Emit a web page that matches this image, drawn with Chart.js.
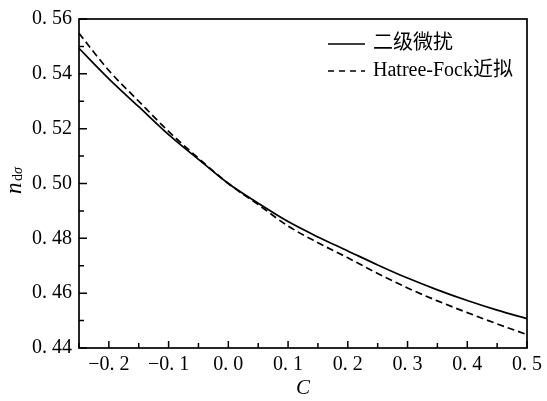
<!DOCTYPE html>
<html>
<head>
<meta charset="utf-8">
<script src="https://cdn.jsdelivr.net/npm/chart.js@4"></script>
<style>
  html, body { margin: 0; padding: 0; background: #fff; }
  #wrap { width: 547px; height: 401px; }
</style>
</head>
<body>
<div id="wrap"><canvas id="chart" width="547" height="401"></canvas></div>
<script>
// Data
const cValues = [-0.25, -0.2, -0.15, -0.1, -0.05, 0, 0.05, 0.1, 0.15, 0.2, 0.25, 0.3, 0.35, 0.4, 0.45, 0.5];
const secondOrder = [0.5493, 0.5382, 0.5280, 0.5178, 0.5088, 0.5000, 0.4928, 0.4861, 0.4805, 0.4754, 0.4703, 0.4655, 0.4612, 0.4573, 0.4538, 0.4507];
const hartreeFock = [0.5548, 0.5412, 0.5300, 0.5190, 0.5092, 0.5000, 0.4923, 0.4845, 0.4784, 0.4729, 0.4672, 0.4619, 0.4572, 0.4529, 0.4488, 0.4449];
const seriesNames = ['二级微扰', 'Hatree-Fock近拟'];

const xTicks = [-0.2, -0.1, 0.0, 0.1, 0.2, 0.3, 0.4, 0.5];
const xMinor = [-0.25, -0.15, -0.05, 0.05, 0.15, 0.25, 0.35, 0.45];
const yTicks = [0.44, 0.46, 0.48, 0.50, 0.52, 0.54, 0.56];
const yMinor = [0.45, 0.47, 0.49, 0.51, 0.53, 0.55];

const SERIF = '"Liberation Serif", "Noto Sans CJK SC", serif';

function fmt(v, d) {
    let s = Math.abs(v).toFixed(d).replace('.', '. ');
    return (v < -1e-9 ? '\u2212' : '') + s;
}

// frame, inward ticks, legend and axis titles
const decor = {
    id: 'decor',
    afterDraw(chart) {
        const { ctx, chartArea: a, scales: { x, y } } = chart;
        ctx.save();
        ctx.strokeStyle = '#000';
        ctx.lineWidth = 1.7;
        ctx.strokeRect(a.left, a.top, a.right - a.left, a.bottom - a.top);

        ctx.lineWidth = 1.5;
        ctx.beginPath();
        xTicks.forEach(v => { const p = x.getPixelForValue(v); ctx.moveTo(p, a.bottom); ctx.lineTo(p, a.bottom - 7); });
        xMinor.forEach(v => { const p = x.getPixelForValue(v); ctx.moveTo(p, a.bottom); ctx.lineTo(p, a.bottom - 5); });
        yTicks.forEach(v => { const p = y.getPixelForValue(v); ctx.moveTo(a.left, p); ctx.lineTo(a.left + 8, p); });
        yMinor.forEach(v => { const p = y.getPixelForValue(v); ctx.moveTo(a.left, p); ctx.lineTo(a.left + 5, p); });
        ctx.stroke();

        // legend
        ctx.fillStyle = '#000';
        ctx.font = '20px ' + SERIF;
        ctx.textBaseline = 'middle';
        chart.data.datasets.forEach((ds, i) => {
            const ly = a.top + 25 + i * 27;
            ctx.beginPath();
            ctx.lineWidth = 1.6;
            ctx.setLineDash(ds.borderDash && ds.borderDash.length ? [6, 5] : []);
            ctx.moveTo(a.right - 199, ly);
            ctx.lineTo(a.right - 162, ly);
            ctx.stroke();
            ctx.setLineDash([]);
            ctx.fillText(ds.label, a.right - 154, ly);
        });

        // x title
        ctx.font = 'italic 21px ' + SERIF;
        ctx.textAlign = 'center';
        ctx.fillText('C', (a.left + a.right) / 2, 388);

        // y title n_dσ
        ctx.translate(21, 194);
        ctx.rotate(-Math.PI / 2);
        ctx.textAlign = 'left';
        ctx.textBaseline = 'alphabetic';
        ctx.font = 'italic 23px ' + SERIF;
        ctx.fillText('n', 0, 0);
        ctx.font = '14px ' + SERIF;
        ctx.fillText('d', 13, 1);
        ctx.font = 'italic 14px ' + SERIF;
        ctx.fillText('σ', 20, 1);
        ctx.restore();
    }
};

function initChart() {
    const ctx = document.getElementById('chart').getContext('2d');
    new Chart(ctx, {
        type: 'line',
        data: {
            datasets: [
                { label: seriesNames[0], data: cValues.map((c, i) => ({ x: c, y: secondOrder[i] })), borderColor: '#000', borderWidth: 1.7, pointRadius: 0, cubicInterpolationMode: 'monotone', fill: false },
                { label: seriesNames[1], data: cValues.map((c, i) => ({ x: c, y: hartreeFock[i] })), borderColor: '#000', borderWidth: 1.7, borderDash: [7, 4], pointRadius: 0, cubicInterpolationMode: 'monotone', fill: false }
            ]
        },
        options: {
            responsive: false,
            animation: false,
            devicePixelRatio: 1,
            layout: { padding: { top: 15, right: 18, left: 0, bottom: 0 } },
            plugins: { legend: { display: false }, tooltip: { enabled: false } },
            scales: {
                x: {
                    type: 'linear', min: -0.25, max: 0.5,
                    grid: { display: false, drawTicks: false }, border: { display: false },
                    afterBuildTicks: s => { s.ticks = xTicks.map(v => ({ value: v })); },
                    afterFit: s => { s.height = 53; },
                    ticks: { color: '#000', padding: 5, maxRotation: 0, autoSkip: false, font: { family: SERIF, size: 20 }, callback: v => fmt(v, 1) }
                },
                y: {
                    type: 'linear', min: 0.44, max: 0.56,
                    grid: { display: false, drawTicks: false }, border: { display: false },
                    afterBuildTicks: s => { s.ticks = yTicks.map(v => ({ value: v })); },
                    afterFit: s => { s.width = 79; },
                    ticks: { color: '#000', padding: 7, autoSkip: false, font: { family: SERIF, size: 20 }, callback: v => fmt(v, 2) }
                }
            }
        },
        plugins: [decor]
    });
}

initChart();
</script>
</body>
</html>
